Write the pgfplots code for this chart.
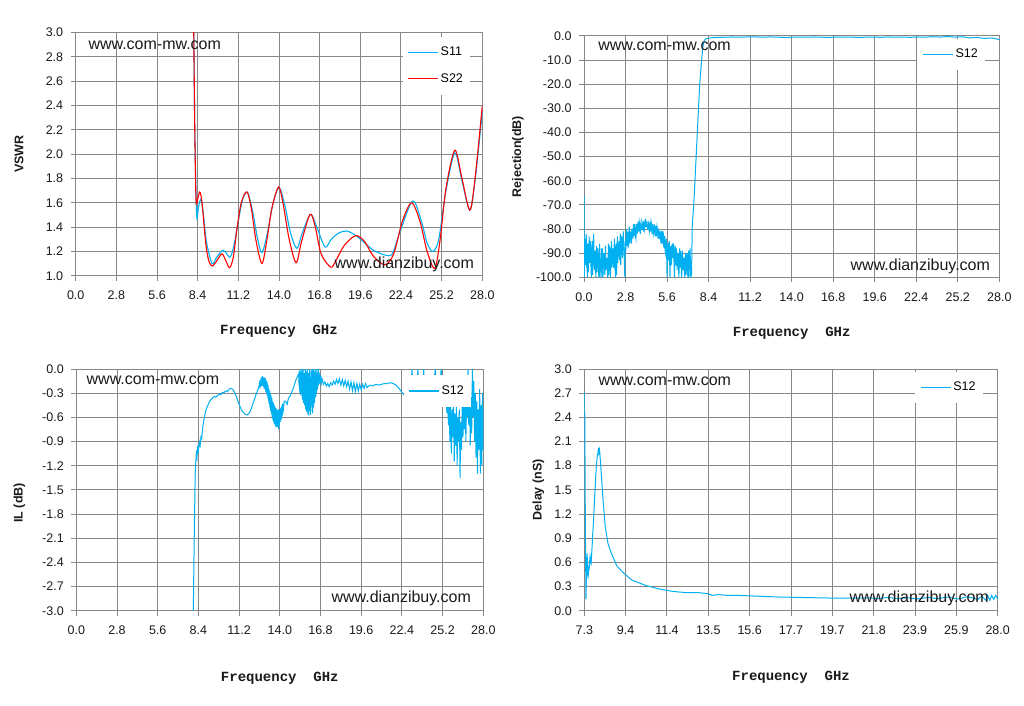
\documentclass[border=0pt]{standalone}
\usepackage{fontspec}
\setmainfont{Liberation Sans}
\newfontfamily\freqfont{Liberation Mono}
\usepackage{pgfplots}
\pgfplotsset{compat=1.18}
\definecolor{cy}{HTML}{00B0F0}
\definecolor{rd}{HTML}{FF0000}
\definecolor{gr}{HTML}{868686}
\definecolor{tx}{HTML}{1A1A1A}
\tikzset{wm/.style={font=\fontsize{16}{18}\selectfont, text=tx, inner sep=0pt}}
\pgfplotsset{
  excel/.style={
    scale only axis,
    axis line style={gr, line width=1pt},
    grid=major,
    grid style={gr, line width=1pt},
    major tick style={gr, line width=1pt},
    major tick length=5pt,
    tick align=outside,
    xtick pos=bottom, ytick pos=left,
    ticklabel style={font=\fontsize{12.5}{15}\selectfont, text=tx},
    xticklabel style={yshift=-7pt},
    yticklabel style={xshift=-4pt},
    /pgf/number format/assume math mode=true,
    /pgf/number format/fixed,
    /pgf/number format/fixed zerofill,
    /pgf/number format/precision=1,
    xlabel style={font=\freqfont\bfseries\fontsize{14}{16}\selectfont, text=tx, at={(axis description cs:0.5,0)}, anchor=center},
    ylabel style={font=\bfseries\fontsize{12.5}{15}\selectfont, text=tx, at={(axis description cs:0,0.5)}, anchor=center},
    xlabel={Frequency\ \ GHz},
    legend style={draw=none, fill=white, anchor=north east, font=\fontsize{12.5}{15}\selectfont, inner xsep=5pt, inner ysep=8pt, row sep=11pt,
      nodes={inner sep=2pt, text height=9pt, text depth=2.5pt}},
    legend cell align=left,
  },
  cyl/.style={cy, legend image code/.code={\draw[cy, line width=1.1pt] (0pt,0pt) -- (30pt,0pt);}},
  rdl/.style={rd, legend image code/.code={\draw[rd, line width=1.1pt] (0pt,0pt) -- (30pt,0pt);}},
}
\begin{document}
\begin{tikzpicture}
\useasboundingbox (0,0) rectangle (1024pt,705pt);
% ---------------- Panel 1: VSWR ----------------
\begin{axis}[excel, at={(75.7pt,429.3pt)}, anchor=south west,
  width=406.6pt, height=243pt,
  xmin=0, xmax=28, ymin=1, ymax=3,
  xtick={0,2.8,5.6,8.4,11.2,14.0,16.8,19.6,22.4,25.2,28.0},
  ytick={1.0,1.2,1.4,1.6,1.8,2.0,2.2,2.4,2.6,2.8,3.0},
  xlabel style={yshift=-56pt},
  ylabel={VSWR}, ylabel style={yshift=56.7pt},
  legend style={at={(0.970,0.985)}},
]
\addplot[cyl, line width=1.1pt, smooth, tension=0.5] coordinates {
(8.10,3.3) (8.13,3.0) (8.20,2.2) (8.28,1.70) (8.35,1.47) (8.45,1.56) (8.63,1.63)
(8.80,1.50) (9.00,1.28) (9.39,1.10) (9.70,1.15) (10.14,1.21) (10.40,1.18) (10.65,1.154)
(10.90,1.25) (11.20,1.45) (11.50,1.63) (11.84,1.684) (12.20,1.52) (12.50,1.32) (12.82,1.19)
(13.20,1.35) (13.60,1.60) (14.01,1.725) (14.40,1.58) (14.80,1.35) (15.23,1.225) (15.60,1.35)
(16.17,1.505) (16.60,1.40) (17.17,1.236) (17.60,1.30) (18.10,1.35) (18.66,1.368) (19.30,1.33)
(19.90,1.27) (20.50,1.21) (21.30,1.17) (21.80,1.18) (22.30,1.35) (23.20,1.615) (23.80,1.45)
(24.20,1.27) (24.60,1.20) (25.00,1.30) (25.50,1.70) (26.11,2.01) (26.60,1.78) (27.14,1.54)
(27.50,1.78) (28.00,2.35)
};
\addlegendentry{S11}
\addplot[rdl, line width=1.1pt, smooth, tension=0.5] coordinates {
(8.10,3.3) (8.13,3.0) (8.20,2.2) (8.27,1.70) (8.31,1.59) (8.40,1.63) (8.50,1.68) (8.58,1.684)
(8.70,1.60) (8.85,1.40) (9.00,1.22) (9.20,1.11) (9.43,1.08) (9.70,1.12) (10.07,1.18)
(10.35,1.12) (10.60,1.066) (10.85,1.15) (11.10,1.38) (11.40,1.60) (11.79,1.69) (12.10,1.55)
(12.40,1.30) (12.82,1.10) (13.15,1.28) (13.50,1.55) (13.97,1.73) (14.30,1.58) (14.70,1.30)
(15.18,1.107) (15.55,1.28) (16.14,1.505) (16.50,1.40) (16.90,1.18) (17.56,1.07) (17.90,1.12)
(18.50,1.25) (19.28,1.33) (19.90,1.28) (20.50,1.16) (21.30,1.09) (21.90,1.18) (22.50,1.45)
(23.13,1.60) (23.70,1.45) (24.20,1.20) (24.73,1.06) (25.10,1.30) (25.50,1.72) (26.11,2.033)
(26.60,1.80) (27.14,1.54) (27.50,1.80) (28.00,2.40)
};
\addlegendentry{S22}
\node[wm, anchor=west] at (rel axis cs:0.031,0.949) {www.com-mw.com};
\node[wm, anchor=east] at (rel axis cs:0.980,0.047) {www.dianzibuy.com};
\end{axis}
% ---------------- Panel 2: Rejection ----------------
\begin{axis}[excel, at={(584pt,427.7pt)}, anchor=south west,
  width=415.3pt, height=241.3pt,
  xmin=0, xmax=28, ymin=-100, ymax=0,
  xtick={0,2.8,5.6,8.4,11.2,14.0,16.8,19.6,22.4,25.2,28.0},
  ytick={-100,-90,-80,-70,-60,-50,-40,-30,-20,-10,0},
  xlabel style={yshift=-55.7pt},
  ylabel={Rejection(dB)}, ylabel style={yshift=66pt},
  legend style={at={(0.9655,0.99)}},
]
\addplot[cyl, line width=1pt] coordinates {
(0.00,-66) (0.02,-100) (0.05,-84) (0.075,-90) (0.10,-95) (0.125,-87) (0.15,-82) (0.175,-96) (0.20,-91) (0.225,-100) (0.25,-86) (0.275,-92) (0.30,-98)
(0.325,-88) (0.35,-83) (0.375,-94) (0.40,-92) (0.425,-85) (0.45,-88) (0.475,-97) (0.50,-100) (0.525,-90) (0.55,-85) (0.575,-99) (0.60,-94) (0.625,-87) (0.65,-82) (0.675,-91) (0.70,-97)
(0.75,-89) (0.775,-95) (0.80,-100) (0.825,-92) (0.85,-87) (0.875,-98) (0.90,-95) (0.925,-88) (0.95,-91) (0.975,-96) (1.00,-100) (1.025,-93) (1.05,-86) (1.075,-100) (1.10,-97)
(1.15,-93) (1.175,-88) (1.20,-100) (1.225,-94) (1.25,-88) (1.275,-100) (1.30,-96) (1.325,-91) (1.35,-90) (1.375,-95) (1.40,-99) (1.425,-92) (1.45,-87) (1.475,-97) (1.50,-95)
(1.55,-92) (1.575,-97) (1.60,-100) (1.625,-93) (1.65,-86) (1.675,-99) (1.70,-94) (1.725,-87) (1.75,-89) (1.775,-100) (1.80,-97) (1.825,-90) (1.85,-85) (1.875,-96) (1.90,-93)
(1.95,-88) (1.975,-95) (2.00,-96) (2.025,-89) (2.05,-84) (2.075,-97) (2.10,-91) (2.125,-100) (2.15,-86) (2.175,-92) (2.20,-99) (2.225,-89) (2.25,-83) (2.275,-94) (2.30,-90)
(2.35,-85) (2.375,-91) (2.40,-93) (2.425,-86) (2.45,-82) (2.475,-95) (2.50,-89) (2.525,-83) (2.55,-84) (2.575,-90) (2.60,-92) (2.625,-85) (2.65,-81) (2.675,-89) (2.70,-88)
(2.75,-100) (2.775,-86) (2.80,-84) (2.825,-89) (2.85,-80) (2.875,-85) (2.90,-87) (2.925,-81) (2.95,-82) (2.975,-88) (3.00,-85) (3.025,-82) (3.05,-79) (3.075,-86) (3.10,-84)
(3.15,-81) (3.175,-85) (3.20,-86) (3.225,-80) (3.25,-80) (3.275,-84) (3.30,-83) (3.325,-79) (3.35,-78) (3.375,-83) (3.40,-82) (3.425,-78) (3.45,-79) (3.475,-83) (3.50,-84)
(3.55,-78) (3.575,-82) (3.60,-81) (3.625,-78) (3.65,-77) (3.675,-81) (3.70,-80) (3.725,-77) (3.75,-78) (3.775,-81) (3.80,-82) (3.825,-78) (3.85,-77) (3.875,-80) (3.90,-80)
(3.95,-78) (3.975,-80) (4.00,-81) (4.025,-77) (4.05,-77) (4.075,-80) (4.10,-79) (4.125,-76) (4.15,-76) (4.175,-79) (4.20,-79) (4.225,-77) (4.25,-77) (4.275,-80) (4.30,-80)
(4.35,-78) (4.375,-80) (4.40,-81) (4.425,-78) (4.45,-77) (4.475,-81) (4.50,-80) (4.525,-77) (4.55,-78) (4.575,-81) (4.60,-82) (4.625,-78) (4.65,-79) (4.675,-82) (4.70,-81)
(4.75,-78) (4.775,-82) (4.80,-83) (4.825,-79) (4.85,-79) (4.875,-83) (4.90,-82) (4.925,-79) (4.95,-80) (4.975,-83) (5.00,-84) (5.025,-80) (5.05,-80) (5.075,-84) (5.10,-83)
(5.15,-81) (5.175,-85) (5.20,-86) (5.225,-81) (5.25,-81) (5.275,-86) (5.30,-85) (5.325,-81) (5.35,-82) (5.375,-87) (5.40,-88) (5.425,-83) (5.45,-83) (5.475,-89) (5.50,-90)
(5.55,-84) (5.575,-91) (5.60,-100) (5.625,-88) (5.65,-86) (5.675,-93) (5.70,-92) (5.725,-86) (5.75,-85) (5.775,-94) (5.80,-100) (5.825,-89) (5.85,-87) (5.875,-95) (5.90,-94)
(5.95,-86) (5.975,-92) (6.00,-91) (6.025,-86) (6.05,-88) (6.075,-96) (6.10,-100) (6.125,-90) (6.15,-87) (6.175,-94) (6.20,-95) (6.225,-88) (6.25,-89) (6.275,-97) (6.30,-93)
(6.35,-90) (6.375,-97) (6.40,-100) (6.425,-91) (6.45,-88) (6.475,-95) (6.50,-96) (6.525,-89) (6.55,-91) (6.575,-100) (6.60,-98) (6.625,-92) (6.65,-89) (6.675,-97) (6.70,-95)
(6.75,-92) (6.775,-98) (6.80,-100) (6.825,-93) (6.85,-90) (6.875,-99) (6.90,-97) (6.925,-90) (6.95,-91) (6.975,-96) (7.00,-100) (7.025,-92) (7.05,-89) (7.075,-100) (7.10,-96)
(7.15,-88) (7.175,-95) (7.20,-100) (7.25,-99) (7.30,-78) (7.40,-70) (7.64,-40) (7.80,-20) (7.93,-10)
(8.00,-5) (8.10,-2) (8.20,-1.2) (8.40,-0.9) (8.80,-0.6) (9.50,-0.5) (10.0,-0.4) (10.5,-0.5)
(11.0,-0.4) (11.5,-0.35) (12.0,-0.5) (12.5,-0.4) (13.0,-0.45) (13.5,-0.6) (14.0,-0.5)
(14.5,-0.45) (15.0,-0.5) (15.5,-0.4) (16.0,-0.5) (16.5,-0.6) (17.0,-0.4) (17.5,-0.5)
(18.0,-0.45) (18.5,-0.6) (19.0,-0.5) (19.5,-0.45) (20.0,-0.55) (20.5,-0.4) (21.0,-0.5)
(21.5,-0.45) (22.0,-0.55) (22.5,-0.4) (23.0,-0.5) (23.5,-0.3) (24.0,-0.45) (24.5,-0.2)
(25.0,-0.5) (25.5,-0.3) (26.0,-0.8) (26.5,-0.6) (27.0,-1.0) (27.5,-0.8) (28.0,-1.5)
};
\addlegendentry{S12}
\node[wm, anchor=west] at (rel axis cs:0.034,0.956) {www.com-mw.com};
\node[wm, anchor=east] at (rel axis cs:0.978,0.044) {www.dianzibuy.com};
\end{axis}
% ---------------- Panel 3: IL ----------------
\begin{axis}[excel, at={(76.3pt,94.3pt)}, anchor=south west,
  width=407pt, height=241.7pt,
  xmin=0, xmax=28, ymin=-3, ymax=0,
  xtick={0,2.8,5.6,8.4,11.2,14.0,16.8,19.6,22.4,25.2,28.0},
  ytick={-3.0,-2.7,-2.4,-2.1,-1.8,-1.5,-1.2,-0.9,-0.6,-0.3,0.0},
  xlabel style={yshift=-68pt},
  ylabel={IL (dB)}, ylabel style={at={(axis description cs:0,0.446)}, yshift=57pt},
  legend style={at={(0.970,0.975)}},
]
\addplot[cyl, line width=1pt] coordinates {
(8.00,-3.5) (8.05,-3.0) (8.12,-2.0) (8.18,-1.3) (8.22,-1.15) (8.26,-1.05) (8.30,-1.10)
(8.35,-0.98) (8.40,-1.02) (8.47,-0.91) (8.52,-0.95) (8.58,-0.84) (8.63,-0.86) (8.70,-0.72)
(8.77,-0.64) (8.85,-0.56) (8.95,-0.49) (9.05,-0.45) (9.15,-0.41) (9.25,-0.38) (9.38,-0.36)
(9.50,-0.34) (9.60,-0.35) (9.72,-0.33) (9.85,-0.31) (9.95,-0.32) (10.05,-0.29) (10.18,-0.29)
(10.30,-0.27) (10.40,-0.28) (10.52,-0.25) (10.64,-0.24) (10.75,-0.25) (10.90,-0.29)
(11.05,-0.36) (11.20,-0.44) (11.40,-0.52) (11.60,-0.56) (11.78,-0.57) (11.95,-0.53)
(12.10,-0.46) (12.25,-0.38) (12.40,-0.30) (12.55,-0.23)
(12.60,-0.18) (12.625,-0.24) (12.65,-0.14) (12.675,-0.22) (12.70,-0.12) (12.725,-0.20)
(12.75,-0.10) (12.775,-0.21) (12.80,-0.09) (12.825,-0.19) (12.85,-0.11) (12.875,-0.22)
(12.90,-0.10) (12.925,-0.25) (12.95,-0.12) (12.975,-0.24) (13.00,-0.11) (13.025,-0.28)
(13.05,-0.14) (13.075,-0.30) (13.10,-0.15) (13.125,-0.33) (13.15,-0.18) (13.175,-0.36)
(13.20,-0.20) (13.225,-0.40) (13.25,-0.24) (13.275,-0.44) (13.30,-0.27) (13.325,-0.48)
(13.35,-0.30) (13.375,-0.52) (13.40,-0.33) (13.425,-0.56) (13.45,-0.36) (13.475,-0.60)
(13.50,-0.40) (13.525,-0.63) (13.55,-0.42) (13.575,-0.66) (13.60,-0.44) (13.625,-0.68)
(13.65,-0.46) (13.675,-0.70) (13.70,-0.48) (13.725,-0.72) (13.75,-0.49) (13.775,-0.66)
(13.80,-0.50) (13.825,-0.72) (13.85,-0.52) (13.875,-0.68) (13.90,-0.50) (13.925,-0.75)
(13.95,-0.51) (13.975,-0.70) (14.00,-0.50) (14.025,-0.66) (14.05,-0.49) (14.075,-0.64)
(14.10,-0.47) (14.125,-0.62) (14.15,-0.45) (14.175,-0.58) (14.20,-0.43) (14.25,-0.50)
(14.30,-0.40) (14.40,-0.40) (14.50,-0.44) (14.60,-0.36) (14.70,-0.34) (14.80,-0.30)
(14.90,-0.25) (15.00,-0.20) (15.10,-0.14) (15.20,-0.10)
(15.30,-0.06) (15.325,-0.22) (15.35,-0.02) (15.375,-0.30) (15.40,0.0) (15.425,-0.18)
(15.45,-0.33) (15.475,-0.04) (15.50,-0.25) (15.525,0.0) (15.55,-0.38) (15.575,-0.10)
(15.60,0.0) (15.625,-0.42) (15.65,-0.15) (15.675,-0.05) (15.70,-0.45) (15.725,-0.12)
(15.75,0.0) (15.775,-0.50) (15.80,-0.20) (15.825,-0.03) (15.85,-0.53) (15.875,-0.15)
(15.90,0.0) (15.925,-0.56) (15.95,-0.25) (15.975,-0.05) (16.00,-0.58) (16.025,-0.20)
(16.05,0.0) (16.075,-0.52) (16.10,-0.10) (16.125,-0.57) (16.15,-0.02) (16.175,-0.45)
(16.20,-0.15) (16.225,0.0) (16.25,-0.55) (16.275,-0.10) (16.30,0.0) (16.325,-0.48)
(16.35,-0.18) (16.375,-0.03) (16.40,-0.42) (16.425,-0.08) (16.45,0.0) (16.475,-0.35)
(16.50,-0.05) (16.525,-0.30) (16.55,0.0) (16.575,-0.26) (16.60,-0.06) (16.625,-0.22)
(16.65,0.0) (16.675,-0.20) (16.70,-0.04) (16.725,-0.18) (16.75,-0.06) (16.775,-0.17)
(16.80,-0.08) (16.85,-0.18) (16.90,-0.12)
(17.00,-0.19) (17.10,-0.16) (17.20,-0.21) (17.30,-0.18) (17.40,-0.22) (17.50,-0.17)
(17.60,-0.20) (17.70,-0.15) (17.80,-0.19) (17.90,-0.13) (18.00,-0.18) (18.10,-0.12)
(18.20,-0.20) (18.30,-0.13) (18.40,-0.21) (18.50,-0.14) (18.60,-0.22) (18.70,-0.15)
(18.80,-0.25) (18.90,-0.16) (19.00,-0.27) (19.10,-0.17) (19.20,-0.28) (19.30,-0.18)
(19.40,-0.27) (19.50,-0.19) (19.60,-0.26) (19.70,-0.19) (19.80,-0.24) (19.90,-0.18)
(20.00,-0.23) (20.20,-0.20) (20.40,-0.21) (20.60,-0.19) (20.80,-0.20) (21.00,-0.19)
(21.20,-0.18) (21.40,-0.18) (21.60,-0.17) (21.80,-0.18) (22.00,-0.20) (22.20,-0.24)
(22.40,-0.29) (22.60,-0.33) (22.70,-0.38) (22.80,-0.30) (22.90,-0.42) (23.00,-0.28)
(23.10,0.0) (23.20,-0.40) (23.30,-0.30) (23.40,-0.45) (23.50,0.0) (23.60,-0.38)
(23.70,-0.30) (23.80,-0.43) (23.90,0.0) (24.00,-0.36) (24.10,-0.32) (24.20,-0.40)
(24.30,-0.25) (24.50,-0.30) (24.70,0.0) (24.80,-0.30) (25.00,-0.25) (25.10,0.0)
(25.20,-0.30) (25.30,-0.40) (25.40,-0.28) (25.50,-0.55) (25.55,-0.35) (25.60,-0.70)
(25.65,-0.40) (25.70,-0.90) (25.75,-0.45) (25.80,-1.05) (25.85,-0.50) (25.90,-0.85)
(25.95,-0.40) (26.00,-1.15) (26.05,-0.55) (26.10,-0.95) (26.15,-0.45) (26.20,-1.20)
(26.25,-0.60) (26.30,-0.90) (26.35,-0.50) (26.40,-1.35) (26.45,-0.65) (26.50,-1.00)
(26.55,-0.40) (26.60,-0.85) (26.65,-0.30) (26.70,-0.75) (26.75,-0.25) (26.80,-0.90)
(26.85,-0.40) (26.90,-0.60) (26.95,0.0) (27.00,-0.70) (27.05,-0.20) (27.10,-0.95)
(27.15,-0.35) (27.20,-0.80) (27.25,0.0) (27.30,-0.60) (27.35,-0.15) (27.40,-0.90)
(27.45,-0.30) (27.50,-1.10) (27.55,-0.40) (27.60,-1.30) (27.65,-0.50) (27.70,-1.00)
(27.75,-0.25) (27.80,-1.30) (27.85,-0.45) (27.90,-1.20) (27.95,-0.30) (28.00,-1.00)
};
\addlegendentry{S12}
\node[wm, anchor=west] at (rel axis cs:0.025,0.954) {www.com-mw.com};
\node[wm, anchor=east] at (rel axis cs:0.970,0.051) {www.dianzibuy.com};
\end{axis}
% ---------------- Panel 4: Delay ----------------
\begin{axis}[excel, at={(584.3pt,94.3pt)}, anchor=south west,
  width=413.4pt, height=241.7pt,
  xmin=7.3, xmax=28, ymin=0, ymax=3,
  xtick={7.3,9.37,11.44,13.51,15.58,17.65,19.72,21.79,23.86,25.93,28.0},
  xticklabels={7.3,9.4,11.4,13.5,15.6,17.7,19.7,21.8,23.9,25.9,28.0},
  ytick={0.0,0.3,0.6,0.9,1.2,1.5,1.8,2.1,2.4,2.7,3.0},
  xlabel style={yshift=-67pt},
  ylabel={Delay (nS)}, ylabel style={yshift=46pt},
  legend style={at={(0.964,0.99)}},
]
\addplot[cyl, line width=1pt] coordinates {
(7.30,2.72) (7.31,2.0) (7.325,2.46) (7.34,1.60) (7.36,0.80) (7.385,0.14) (7.41,0.45)
(7.44,0.71) (7.47,0.50) (7.49,0.40) (7.52,0.55) (7.54,0.50) (7.57,0.62) (7.59,0.67)
(7.62,0.60) (7.64,0.585) (7.68,0.75) (7.725,0.96) (7.77,1.15) (7.81,1.37) (7.86,1.60)
(7.90,1.79) (7.95,1.92) (7.98,1.95) (8.01,2.02) (8.03,1.96) (8.06,2.00) (8.08,1.95)
(8.15,1.70) (8.24,1.37) (8.35,1.04) (8.49,0.83) (8.66,0.71) (8.92,0.56) (9.26,0.47)
(9.68,0.38) (10.36,0.315) (11.04,0.27) (11.72,0.24) (12.40,0.224) (13.00,0.225)
(13.50,0.21) (13.70,0.19) (14.00,0.20) (14.50,0.19) (15.00,0.19) (15.50,0.185) (16.00,0.18)
(16.50,0.175) (17.00,0.17) (18.00,0.165) (19.00,0.16) (20.00,0.155) (21.00,0.155)
(21.50,0.16) (22.00,0.15) (22.50,0.165) (23.00,0.15) (23.50,0.16) (24.00,0.145)
(24.50,0.165) (25.00,0.15) (25.50,0.17) (26.00,0.145) (26.50,0.175) (27.00,0.14)
(27.20,0.18) (27.40,0.13) (27.50,0.19) (27.60,0.13) (27.70,0.19) (27.80,0.14)
(27.90,0.19) (28.00,0.15)
};
\addlegendentry{S12}
\node[wm, anchor=west] at (rel axis cs:0.034,0.950) {www.com-mw.com};
\node[wm, anchor=east] at (rel axis cs:0.979,0.051) {www.dianzibuy.com};
\end{axis}
\end{tikzpicture}
\end{document}
